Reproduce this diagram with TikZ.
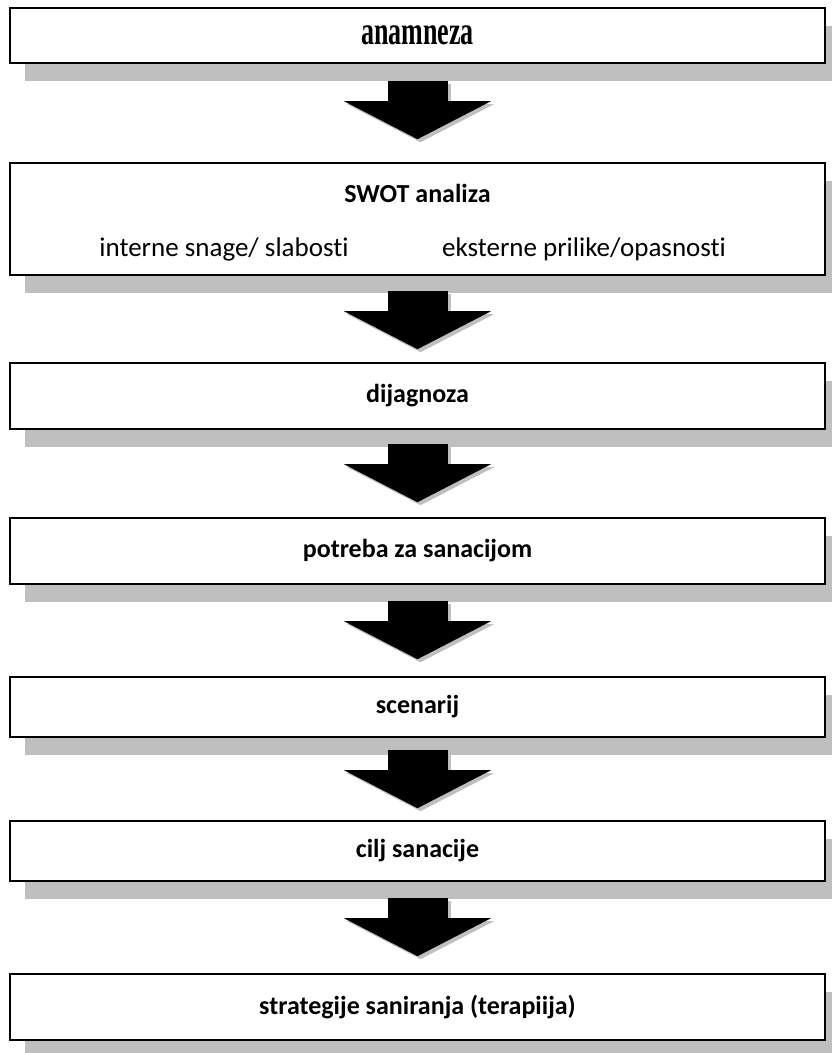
\documentclass[tikz,border=0pt]{standalone}
\usepackage{fontspec}
\setmainfont{Carlito}[Ligatures=NoCommon]
\newfontfamily\condserif[FakeStretch=0.65]{Liberation Serif}
\usetikzlibrary{arrows.meta,shadows,calc}
\definecolor{shadowgray}{RGB}{191,191,191}

\begin{document}
\begin{tikzpicture}[x=1pt, y=-1pt,
  stage/.style={draw=black, line width=1.6pt, fill=white, minimum width=815pt, inner sep=0pt,
    font=\fontsize{26}{30}\selectfont\bfseries,
    drop shadow={shadow xshift=15pt, shadow yshift=-18pt, fill=shadowgray, opacity=1}},
  subtext/.style={font=\fontsize{27}{31}\selectfont, inner sep=0pt},
  blockarrow/.style={line width=60pt, -{Triangle[width=147pt, length=38pt, line width=0pt]}},
  blockshadow/.style={blockarrow, color=shadowgray, transform canvas={shift={(3pt,-3pt)}}}]
\useasboundingbox (0,0) rectangle (831,1053);
\node[stage, minimum height=55pt, font=\fontsize{40}{44}\selectfont\condserif\bfseries] (anamneza) at (417.5,35.5) {anamneza};
\node[stage, minimum height=112pt] (swot) at (417.5,219) {};
\node[stage, minimum height=66pt] (dijagnoza) at (417.5,396) {dijagnoza};
\node[stage, minimum height=66pt] (potreba) at (417.5,551) {potreba za sanacijom};
\node[stage, minimum height=60pt] (scenarij) at (417.5,707) {scenarij};
\node[stage, minimum height=60pt] (cilj) at (417.5,851) {cilj sanacije};
\node[stage, minimum height=66pt] (strategije) at (417.5,1007) {strategije saniranja (terapiija)};
\node[subtext, font=\fontsize{26}{30}\selectfont\bfseries] (swottitle) at ($(swot.north)+(0,31)$) {SWOT analiza};
\node[subtext] (interne) at (224,249) {interne snage/ slabosti};
\node[subtext] (eksterne) at (584,249) {eksterne prilike/opasnosti};
\foreach \a/\b/\s/\e in {anamneza/swot/17/23, swot/dijagnoza/15/13, dijagnoza/potreba/14/15,
  potreba/scenarij/16/17, scenarij/cilj/12/12, cilj/strategije/16/17} {
  \draw[blockshadow, shorten <=\s pt, shorten >=\e pt] (\a) -- (\b);
  \draw[blockarrow, shorten <=\s pt, shorten >=\e pt] (\a) -- (\b);
}
\end{tikzpicture}
\end{document}
